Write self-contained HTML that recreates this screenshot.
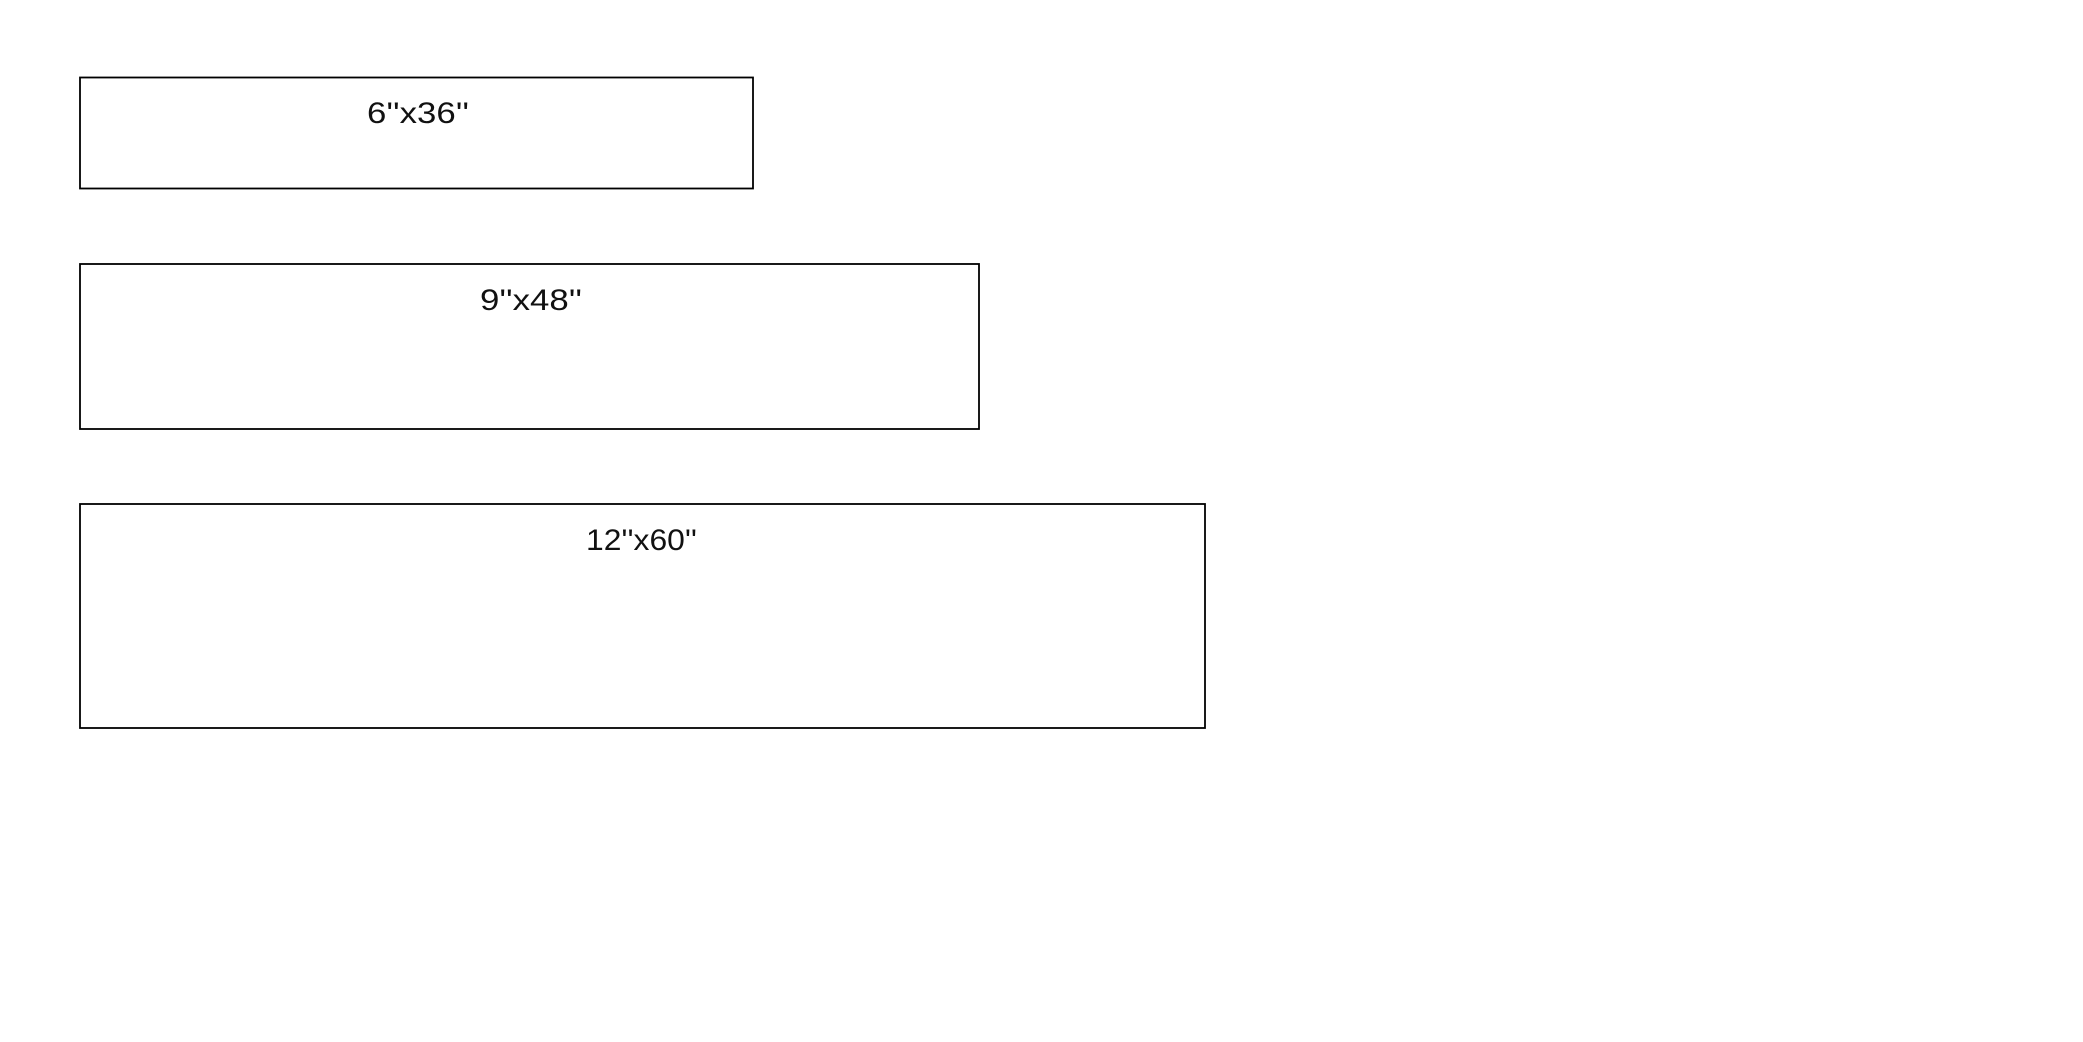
<!DOCTYPE html>
<html><head><style>html,body{margin:0;padding:0;background:#fff;width:2083px;height:1042px;overflow:hidden}</style></head>
<body>
<svg width="2083" height="1042" xmlns="http://www.w3.org/2000/svg">
<g fill="none" stroke="#000" stroke-width="1.8">
<rect x="80" y="77.5" width="673" height="111"/>
<rect x="80" y="264" width="899" height="165"/>
<rect x="80" y="504" width="1125" height="224"/>
</g>
<g font-family="Liberation Sans, sans-serif" font-size="30" fill="#111" font-weight="normal">
<text x="367" y="123" textLength="102" lengthAdjust="spacingAndGlyphs">6''x36''</text>
<text x="480" y="310" textLength="102" lengthAdjust="spacingAndGlyphs">9''x48''</text>
<text x="586" y="550" textLength="111" lengthAdjust="spacingAndGlyphs">12''x60''</text>
</g>
</svg>
</body></html>
